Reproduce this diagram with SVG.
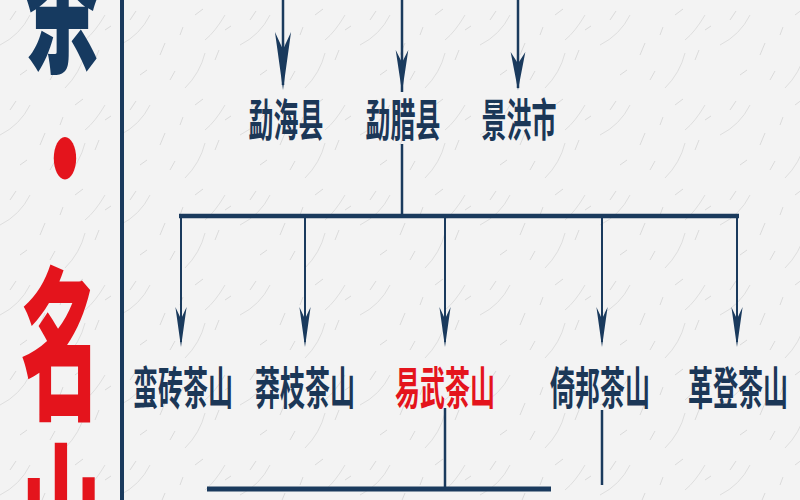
<svg xmlns="http://www.w3.org/2000/svg" width="800" height="500" viewBox="0 0 800 500">
<defs>
<style>
.lbl{font-family:"Noto Sans CJK SC","Noto Sans CJK TC",sans-serif;font-size:25px;font-weight:700;fill:#1b3757;text-anchor:middle}
.red{fill:#e4141c}
.big{font-family:"Noto Sans CJK SC","Noto Sans CJK TC",sans-serif;font-weight:900;text-anchor:middle}
.ln{stroke:#1a3a5d;fill:none}
.ah{fill:#1a3a5d}
</style>
<path id="ah" d="M0,0 L-7,-40 L0,-28 L7,-40 Z"/>
<pattern id="paper" width="120" height="90" patternUnits="userSpaceOnUse">
<rect width="120" height="90" fill="#f3f3f3"/>
<g stroke="#cfcfcf" stroke-width="1" fill="none" opacity="0.7">
<path d="M10,20 l6,-9 M40,55 l5,-12 M75,15 l8,-6 M95,60 l4,-10 M20,75 l7,-5 M60,35 l3,-8 M105,30 l6,-4 M50,80 l5,-9"/>
</g>
<g stroke="#dedede" stroke-width="1" fill="none">
<path d="M0,45 q20,-10 30,-30 M65,88 q15,-15 20,-35 M85,40 q10,-8 20,-25"/>
</g>
</pattern>
</defs>
<rect width="800" height="500" fill="url(#paper)"/>

<g id="title">
<text class="big" transform="translate(62,58) scale(1,2.05)" font-size="80" fill="#163a60">茶</text>
<text class="big" transform="translate(65,216) scale(1,1.9)" font-size="80" fill="#e4141c">·</text>
<text class="big" transform="translate(61,406) scale(1,2.05)" font-size="80" fill="#e4141c">名</text>
<text class="big" transform="translate(61,582) scale(1,2.05)" font-size="80" fill="#e4141c">山</text>
</g>

<g id="connectors">
<line class="ln" x1="122" y1="0" x2="122" y2="500" stroke-width="4"/>
<line class="ln" x1="283" y1="0" x2="283" y2="85" stroke-width="2.5"/>
<line class="ln" x1="402" y1="0" x2="402" y2="92" stroke-width="2.5"/>
<line class="ln" x1="518" y1="0" x2="518" y2="88" stroke-width="2.5"/>
<use href="#ah" class="ah" transform="translate(283,90) scale(1.15,1.45)"/>
<use href="#ah" class="ah" transform="translate(402,92) scale(0.9,1.05)"/>
<use href="#ah" class="ah" transform="translate(518,90) scale(1.05,0.95)"/>
<line class="ln" x1="402" y1="144" x2="402" y2="216" stroke-width="2.5"/>
<line class="ln" x1="179" y1="216" x2="739" y2="216" stroke-width="4.5"/>
<line class="ln" x1="181" y1="216" x2="181" y2="342" stroke-width="2"/>
<line class="ln" x1="305" y1="216" x2="305" y2="342" stroke-width="2"/>
<line class="ln" x1="445" y1="216" x2="445" y2="342" stroke-width="2"/>
<line class="ln" x1="602" y1="216" x2="602" y2="342" stroke-width="2"/>
<line class="ln" x1="737" y1="216" x2="737" y2="342" stroke-width="2"/>
<use href="#ah" class="ah" transform="translate(181,347) scale(0.8,1)"/>
<use href="#ah" class="ah" transform="translate(305,347) scale(0.8,1)"/>
<use href="#ah" class="ah" transform="translate(445,347) scale(0.8,1)"/>
<use href="#ah" class="ah" transform="translate(602,347) scale(0.8,1)"/>
<use href="#ah" class="ah" transform="translate(737,347) scale(0.8,1)"/>
<line class="ln" x1="445" y1="408" x2="445" y2="489" stroke-width="2.5"/>
<line class="ln" x1="207" y1="489" x2="551" y2="489" stroke-width="5"/>
<line class="ln" x1="602" y1="410" x2="602" y2="485" stroke-width="2.5"/>
</g>

<g id="n-menghai"><text class="lbl" transform="translate(286,137) scale(1,1.8)">勐海县</text></g>
<g id="n-mengla"><text class="lbl" transform="translate(403,137) scale(1,1.8)">勐腊县</text></g>
<g id="n-jinghong"><text class="lbl" transform="translate(519,137) scale(1,1.8)">景洪市</text></g>

<g id="n-manzhuan"><text class="lbl" transform="translate(183,405) scale(1,1.8)">蛮砖茶山</text></g>
<g id="n-mangzhi"><text class="lbl" transform="translate(305,405) scale(1,1.8)">莽枝茶山</text></g>
<g id="n-yiwu"><text class="lbl red" transform="translate(445,405) scale(1,1.8)">易武茶山</text></g>
<g id="n-yibang"><text class="lbl" transform="translate(600,405) scale(1,1.8)">倚邦茶山</text></g>
<g id="n-gedeng"><text class="lbl" transform="translate(738,405) scale(1,1.8)">革登茶山</text></g>
</svg>
